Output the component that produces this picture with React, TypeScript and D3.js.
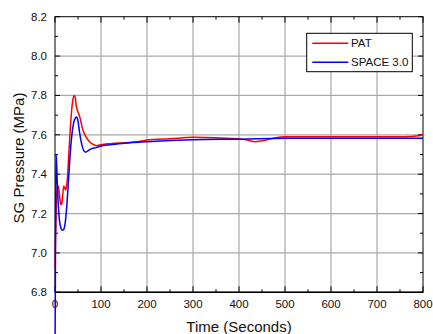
import React from "react";
import * as d3 from "d3";

const xTicks = [0, 100, 200, 300, 400, 500, 600, 700, 800];
const yTicks = [6.8, 7.0, 7.2, 7.4, 7.6, 7.8, 8.0, 8.2];
const seriesNames = ["PAT", "SPACE 3.0"];
const seriesColors = ["#ff0000", "#0000ff"];

const patT = [0, 1, 3, 5, 7, 9, 11, 13, 15, 17, 19, 21, 23, 25, 27, 30, 33, 36, 39, 42, 44, 46, 48, 51, 54, 57, 60, 65, 70, 75, 80, 90, 100, 120, 150, 180, 206, 250, 300, 350, 400, 420, 435, 450, 470, 500, 600, 700, 760, 790, 800];
const patV = [6.92, 7.05, 7.25, 7.33, 7.34, 7.31, 7.27, 7.245, 7.25, 7.3, 7.34, 7.33, 7.32, 7.34, 7.38, 7.5, 7.62, 7.72, 7.78, 7.8, 7.79, 7.75, 7.73, 7.71, 7.69, 7.66, 7.63, 7.6, 7.58, 7.565, 7.555, 7.545, 7.55, 7.555, 7.56, 7.565, 7.575, 7.58, 7.587, 7.585, 7.58, 7.572, 7.565, 7.57, 7.58, 7.59, 7.59, 7.59, 7.59, 7.595, 7.6];

const spaceT = [0, 1, 2, 3, 5, 7, 10, 13, 16, 19, 22, 25, 28, 31, 35, 39, 43, 47, 50, 53, 56, 60, 64, 67, 72, 80, 90, 100, 120, 150, 200, 300, 400, 500, 600, 700, 800];
const spaceV = [6.4, 7.0, 7.5, 7.48, 7.35, 7.25, 7.16, 7.125, 7.115, 7.12, 7.15, 7.22, 7.32, 7.43, 7.56, 7.64, 7.68, 7.69, 7.67, 7.62, 7.575, 7.535, 7.515, 7.512, 7.52, 7.53, 7.535, 7.543, 7.55, 7.557, 7.565, 7.575, 7.578, 7.582, 7.583, 7.583, 7.583];

export default function App() {
  const W = 433, H = 334;
  const L = 55, R = 423, T = 16.7, B = 292.3;
  const x = d3.scaleLinear().domain([0, 800]).range([L, R]);
  const y = d3.scaleLinear().domain([6.8, 8.2]).range([B, T]);
  const line = d3.line<[number, number]>().x(d => x(d[0])).y(d => y(d[1])).curve(d3.curveMonotoneX);
  const patData = patT.map((t, i) => [t, patV[i]] as [number, number]);
  const spaceData = spaceT.map((t, i) => [t, spaceV[i]] as [number, number]);
  const xMinor = d3.range(50, 800, 100);
  const yMinor = d3.range(6.9, 8.2, 0.2);
  const font = "'Liberation Sans', Arial, sans-serif";
  return (
    <svg width={W} height={H} style={{ position: "absolute", left: 0, top: 0, background: "#fff" }} fontFamily={font}>
      <rect x={0} y={0} width={W} height={H} fill="#fff" />
      {xTicks.slice(1, -1).map(t => (
        <line key={"gx" + t} x1={x(t)} x2={x(t)} y1={T} y2={B} stroke="#a8a8a8" strokeWidth={1.2} />
      ))}
      {yTicks.slice(1, -1).map(v => (
        <line key={"gy" + v} x1={L} x2={R} y1={y(v)} y2={y(v)} stroke="#a8a8a8" strokeWidth={1.2} />
      ))}
      {xTicks.map(t => (
        <g key={"tx" + t}>
          <line x1={x(t)} x2={x(t)} y1={B} y2={B - 6} stroke="#000" />
          <line x1={x(t)} x2={x(t)} y1={T} y2={T + 6} stroke="#000" />
          <text x={x(t)} y={308} fontSize={11.5} textAnchor="middle" fill="#111">{t}</text>
        </g>
      ))}
      {xMinor.map(t => (
        <g key={"mx" + t}>
          <line x1={x(t)} x2={x(t)} y1={B} y2={B - 3} stroke="#000" />
          <line x1={x(t)} x2={x(t)} y1={T} y2={T + 3} stroke="#000" />
        </g>
      ))}
      {yTicks.map(v => (
        <g key={"ty" + v}>
          <line x1={L} x2={L + 5} y1={y(v)} y2={y(v)} stroke="#000" />
          <line x1={R} x2={R - 5} y1={y(v)} y2={y(v)} stroke="#000" />
          <text x={47} y={y(v) + 4} fontSize={11.5} textAnchor="end" fill="#111">{v.toFixed(1)}</text>
        </g>
      ))}
      {yMinor.map(v => (
        <g key={"my" + v}>
          <line x1={L} x2={L + 3} y1={y(v)} y2={y(v)} stroke="#000" />
          <line x1={R} x2={R - 3} y1={y(v)} y2={y(v)} stroke="#000" />
        </g>
      ))}
      <rect x={L} y={T} width={R - L} height={B - T} fill="none" stroke="#000" strokeWidth={1} />
      <line x1={L} x2={R} y1={B} y2={B} stroke="#000" strokeWidth={1.6} />
      <path d={line(patData) || ""} fill="none" stroke={seriesColors[0]} strokeWidth={1.5} />
      <path d={line(spaceData) || ""} fill="none" stroke={seriesColors[1]} strokeWidth={1.5} />
      <g>
        <rect x={306.7} y={33.3} width={105.6} height={38.4} fill="#fff" stroke="#000" strokeWidth={1} />
        {seriesNames.map((n, i) => (
          <g key={n}>
            <line x1={312.3} x2={348.3} y1={43.3 + i * 19} y2={43.3 + i * 19} stroke={seriesColors[i]} strokeWidth={1.5} />
            <text x={351} y={47.3 + i * 19} fontSize={11.5} fill="#111">{n}</text>
          </g>
        ))}
      </g>
      <text x={239} y={332} fontSize={15} textAnchor="middle" fill="#111">Time (Seconds)</text>
      <text transform="translate(24,158) rotate(-90)" fontSize={15} textAnchor="middle" fill="#111">SG Pressure (MPa)</text>
    </svg>
  );
}
